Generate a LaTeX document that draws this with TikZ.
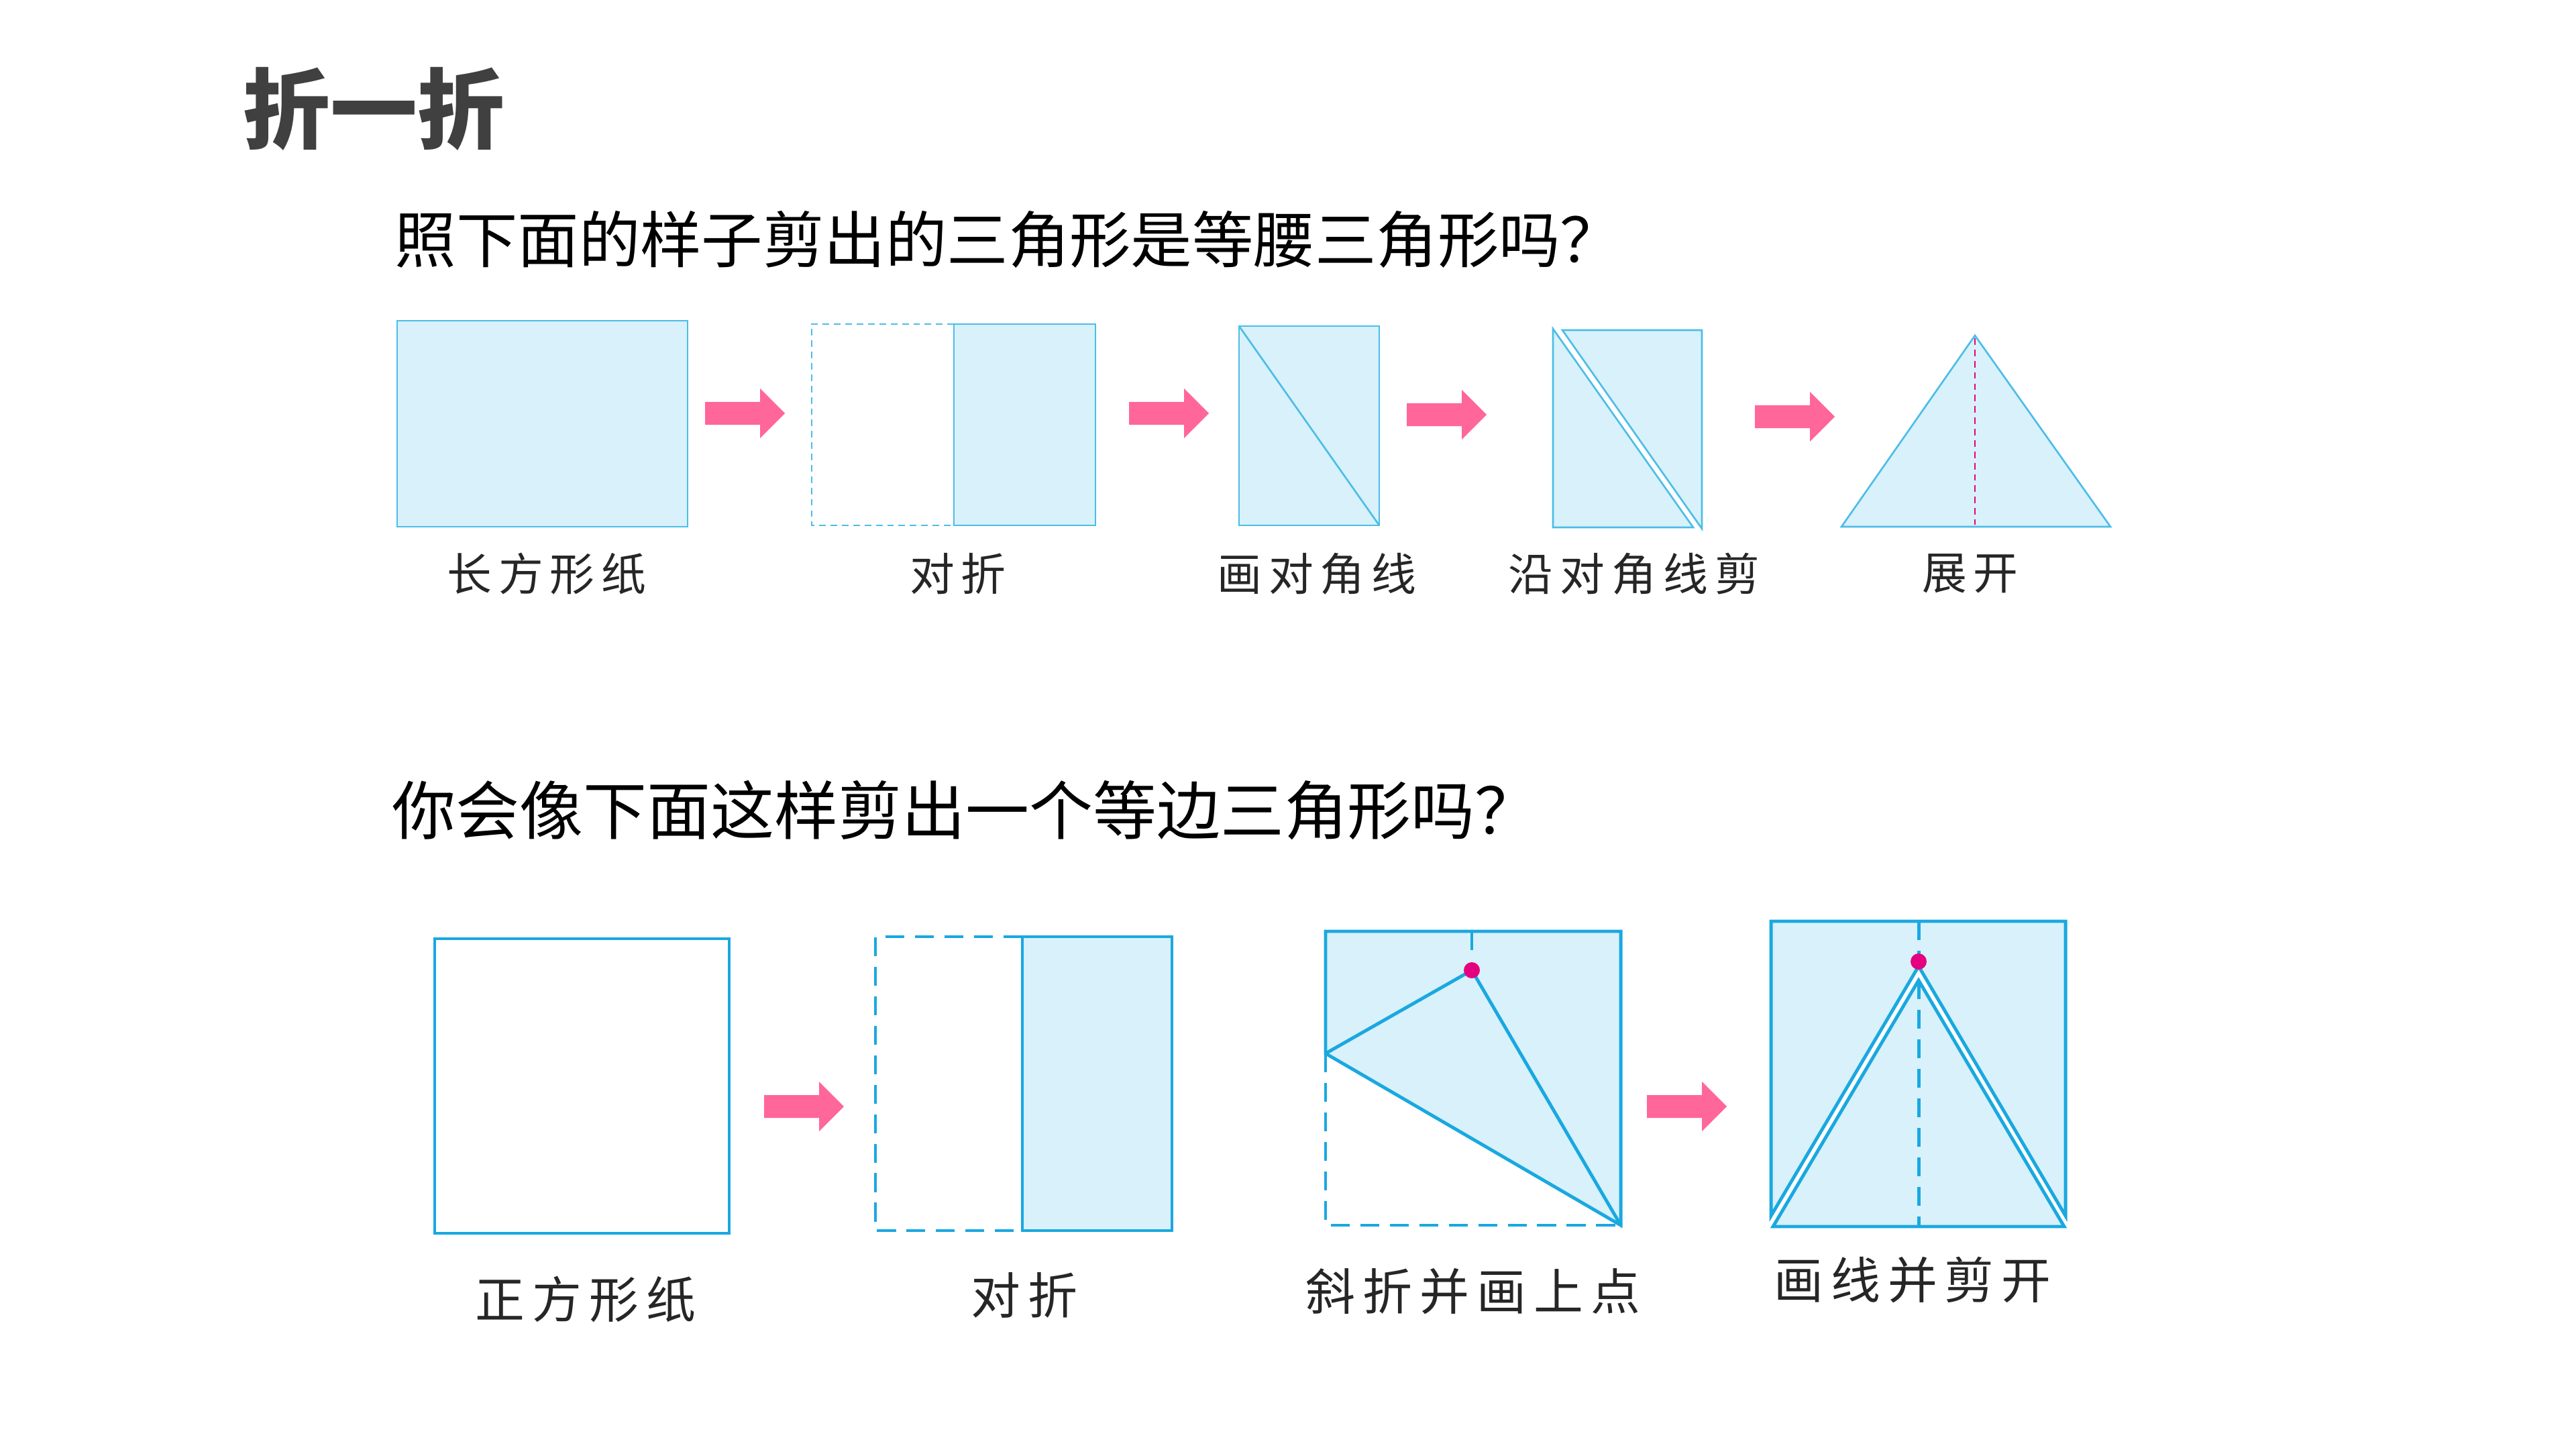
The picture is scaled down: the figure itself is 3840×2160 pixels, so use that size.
\documentclass[tikz,border=0pt]{standalone}
\usepackage{fontspec}
\newfontfamily\cjk{Noto Sans CJK SC}
\newfontfamily\cjkwide{Noto Sans CJK SC}[LetterSpace=15]
\definecolor{foldink}{HTML}{404040}
\definecolor{foldline}{HTML}{4CBDE8}
\definecolor{folddeep}{HTML}{1AA8E0}
\definecolor{foldfill}{HTML}{D8F1FA}
\definecolor{foldarrow}{HTML}{FF6699}
\definecolor{folddot}{HTML}{E4007F}

\begin{document}
\begin{tikzpicture}[
  x=0.01cm,y=-0.01cm,
  heading/.style={font=\cjk\bfseries\fontsize{37pt}{40pt}\selectfont,text=foldink,
                  inner sep=0pt,anchor=west},
  ask/.style={font=\cjk\fontsize{26pt}{28pt}\selectfont,inner sep=0pt,anchor=west},
  caption/.style={font=\cjkwide\fontsize{19pt}{21pt}\selectfont,text=black!85,inner sep=0pt},
  bigcaption/.style={font=\cjkwide\fontsize{21pt}{23pt}\selectfont,text=black!85,inner sep=0pt},
  thin/.style={draw=foldline,line width=.75pt,line join=miter},
  thick/.style={draw=folddeep,line width=1.4pt,line join=miter},
  crease/.style={dash pattern=on 2.8pt off 2pt},
  bigcrease/.style={dash pattern=on 8pt off 4.5pt},
  pinkarrow/.style={fill=foldarrow}
]
  \node[heading] (title) at (362,162) {折一折};
  \node[ask] (askA) at (588,357) {照下面的样子剪出的三角形是等腰三角形吗？};
  \node[ask,font=\cjk\fontsize{27pt}{29pt}\selectfont] (askB) at (584,1207)
    {你会像下面这样剪出一个等边三角形吗？};

  % first row: rectangle folded along its diagonal
  \filldraw[thin,fill=foldfill] (592,478) rectangle (1025,785);
  \draw[thin,crease] (1422,483) -- (1210,483) -- (1210,783) -- (1422,783);
  \filldraw[thin,fill=foldfill] (1422,483) rectangle (1633,783);
  \filldraw[thin,fill=foldfill] (1847,486) rectangle (2056,783);
  \draw[thin] (1847,486) -- (2056,783);
  \filldraw[thin,fill=foldfill] (2315,490) -- (2524,786) -- (2315,786) -- cycle;
  \filldraw[thin,fill=foldfill] (2329,492) -- (2537,492) -- (2537,788) -- cycle;
  \filldraw[thin,fill=foldfill] (2944,500) -- (3146,785) -- (2745,785) -- cycle;
  \draw[folddot,line width=.6pt,crease] (2944,504) -- (2944,782);

  \foreach \x/\y in {1051/616,1683/616,2097/618,2616/621,1139/1649,2455/1649}{
    \fill[pinkarrow] (\x,\y) ++(0,-17) -- ++(82,0) -- ++(0,-20) -- ++(37,37)
      -- ++(-37,37) -- ++(0,-20) -- ++(-82,0) -- cycle;
  }

  \foreach \x/\txt [count=\i] in {815/长方形纸,1428/对折,1963/画对角线,
                                  2436/沿对角线剪,2937/展开}{
    \node[caption] (capA\i) at (\x,855) {\txt};
  }

  % second row: square folded twice
  \draw[thick] (648,1399) rectangle (1087,1838);
  \draw[thick,bigcrease] (1524,1396) -- (1305,1396) -- (1305,1834) -- (1524,1834);
  \filldraw[thick,fill=foldfill] (1524,1396) rectangle (1747,1834);

  \draw[thick,bigcrease] (1976,1570) -- (1976,1826) -- (2416,1826);
  \filldraw[thick,fill=foldfill] (1976,1388) -- (2416,1388) -- (2416,1826)
    -- (1976,1570) -- cycle;
  \draw[thick] (1976,1570) -- (2194,1446) -- (2416,1826);
  \draw[thick,bigcrease] (2194,1388) -- (2194,1430);
  \fill[folddot] (2194,1446) circle (12);

  \filldraw[thick,fill=foldfill] (2640,1373) -- (3079,1373) -- (3079,1812)
    -- (2860,1440) -- (2640,1812) -- cycle;
  \filldraw[thick,fill=foldfill] (2860,1461) -- (3077,1828) -- (2643,1828) -- cycle;
  \draw[thick,bigcrease] (2860,1373) -- (2860,1828);
  \fill[folddot] (2860,1433) circle (12);

  \node[bigcaption] (capB1) at (873,1936) {正方形纸};
  \node[bigcaption] (capB2) at (1527,1930) {对折};
  \node[bigcaption] (capB3) at (2196,1925) {斜折并画上点};
  \node[bigcaption] (capB4) at (2851,1908) {画线并剪开};
  \path[use as bounding box] (0,0) rectangle (3840,2160);
\end{tikzpicture}
\end{document}
